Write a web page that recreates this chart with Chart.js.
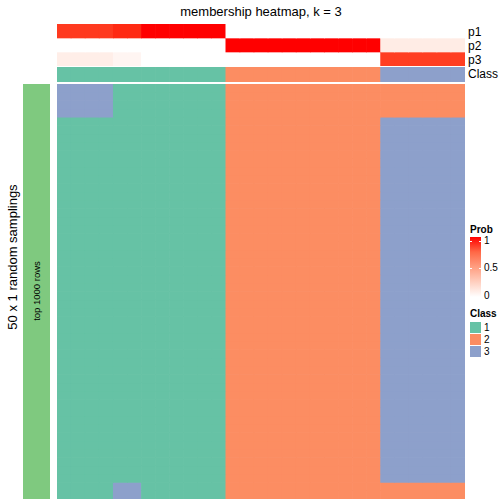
<!DOCTYPE html>
<html>
<head>
<meta charset="utf-8">
<script src="https://cdn.jsdelivr.net/npm/chart.js@4"></script>
<style>
  html, body { margin: 0; padding: 0; background: #fff; }
  body { width: 504px; height: 504px; position: relative; overflow: hidden;
         font-family: 'Liberation Sans', Arial, sans-serif; color: #000; }
  .box { position: absolute; }
  .txt { position: absolute; white-space: nowrap; line-height: 1; }
  .rot { transform: translate(-50%, -50%) rotate(-90deg); }
</style>
</head>
<body>
<div class="txt" style="left:261px;top:11px;font-size:13px;transform:translate(-50%,-50%)">membership heatmap, k = 3</div>

<div class="box" style="left:57px;top:24px;width:408px;height:42px"><canvas id="probMap"></canvas></div>
<div class="box" style="left:57px;top:67px;width:408px;height:15px"><canvas id="classMap"></canvas></div>
<div class="box" style="left:57px;top:84px;width:408px;height:415px"><canvas id="mainMap"></canvas></div>

<div class="txt" style="left:468px;top:26px;font-size:12px">p1</div>
<div class="txt" style="left:468px;top:40px;font-size:12px">p2</div>
<div class="txt" style="left:468px;top:54px;font-size:12px">p3</div>
<div class="txt" style="left:468px;top:68px;font-size:12px">Class</div>

<!-- barra de anotación izquierda -->
<div class="box" style="left:23px;top:84px;width:27px;height:415px;background:#7FC97F"></div>
<div class="txt rot" style="left:37px;top:291px;font-size:9.5px">top 1000 rows</div>
<div class="txt rot" style="left:12px;top:257px;font-size:13px">50 x 1 random samplings</div>

<!-- leyendas -->
<div class="txt" style="left:470px;top:225px;font-size:10px;font-weight:bold">Prob</div>
<div class="box" id="probLegend" style="left:470px;top:237px;width:11px;height:60px"></div>
<div class="box" style="left:470px;top:241px;width:2px;height:1px;background:#fff"></div>
<div class="box" style="left:479px;top:241px;width:2px;height:1px;background:#fff"></div>
<div class="box" style="left:470px;top:268px;width:2px;height:1px;background:#fff"></div>
<div class="box" style="left:479px;top:268px;width:2px;height:1px;background:#fff"></div>
<div class="txt" style="left:484px;top:236px;font-size:10px">1</div>
<div class="txt" style="left:484px;top:263px;font-size:10px">0.5</div>
<div class="txt" style="left:484px;top:291px;font-size:10px">0</div>

<div class="txt" style="left:470px;top:309px;font-size:10px;font-weight:bold">Class</div>
<div class="box" style="left:470px;top:322px;width:11px;height:11px;background:#66C2A5"></div>
<div class="box" style="left:470px;top:334px;width:11px;height:11px;background:#FC8D62"></div>
<div class="box" style="left:470px;top:346px;width:11px;height:11px;background:#8DA0CB"></div>
<div class="txt" style="left:484px;top:323px;font-size:10px">1</div>
<div class="txt" style="left:484px;top:335px;font-size:10px">2</div>
<div class="txt" style="left:484px;top:347px;font-size:10px">3</div>

<script>
// Datos: 29 columnas agrupadas en 5 bloques, 50 filas en 3 bloques
const colGroupSizes = [4, 2, 6, 11, 6];
const probP1 = [0.91, 0.95, 1, 0, 0];
const probP2 = [0, 0, 0, 1, 0.1];
const probP3 = [0.09, 0.05, 0, 0, 0.9];
const colClass = [1, 1, 1, 2, 3];
const rowBlockSizes = [4, 44, 2];
const rowBlockClasses = [
  [3, 1, 1, 2, 2],
  [1, 1, 1, 2, 3],
  [1, 3, 1, 2, 2],
];
const CLASS_COLORS = { 1: '#66C2A5', 2: '#FC8D62', 3: '#8DA0CB' };

// blanco -> rojo interpolado en espacio LAB
function labToHex(L, a, b) {
  const fy = (L + 16) / 116, fx = fy + a / 500, fz = fy - b / 200;
  const inv = (t) => (t ** 3 > 0.008856 ? t ** 3 : (t - 16 / 116) / 7.787);
  const X = 0.95047 * inv(fx), Y = inv(fy), Z = 1.08883 * inv(fz);
  const lin = [
    3.2406 * X - 1.5372 * Y - 0.4986 * Z,
    -0.9689 * X + 1.8758 * Y + 0.0415 * Z,
    0.0557 * X - 0.2040 * Y + 1.0570 * Z,
  ];
  return '#' + lin.map((v) => {
    const s = v > 0.0031308 ? 1.055 * v ** (1 / 2.4) - 0.055 : 12.92 * v;
    return Math.round(Math.min(1, Math.max(0, s)) * 255).toString(16).padStart(2, '0');
  }).join('');
}
function probColor(p) {
  return labToHex(100 - 46.76 * p, 80.09 * p, 67.2 * p);
}

// expandir grupos a columnas individuales
const colGroup = colGroupSizes.flatMap((n, g) => Array(n).fill(g));
const labels = colGroup.map((_, i) => String(i + 1));

function heatmap(canvasId, rowColors) {
  const nRows = rowColors.length;
  new Chart(document.getElementById(canvasId), {
    type: 'bar',
    data: {
      labels,
      datasets: rowColors.map((colors, r) => ({
        data: labels.map(() => [r, r + 1]),
        backgroundColor: colors,
        borderWidth: 0,
        grouped: false,
        barPercentage: 1,
        categoryPercentage: 1,
      })),
    },
    options: {
      animation: false,
      responsive: true,
      maintainAspectRatio: false,
      layout: { padding: 0 },
      plugins: { legend: { display: false }, tooltip: { enabled: false } },
      scales: {
        x: { display: false },
        y: { display: false, min: 0, max: nRows, reverse: true },
      },
    },
  });
}

heatmap('probMap', [probP1, probP2, probP3].map((p) => colGroup.map((g) => probColor(p[g]))));
heatmap('classMap', [colGroup.map((g) => CLASS_COLORS[colClass[g]])]);

const mainRows = rowBlockSizes.flatMap((n, b) =>
  Array(n).fill(0).map(() => colGroup.map((g) => CLASS_COLORS[rowBlockClasses[b][g]])));
heatmap('mainMap', mainRows);

document.getElementById('probLegend').style.background =
  'linear-gradient(to bottom, ' + [1, 0.75, 0.5, 0.25, 0].map((p) => probColor(p)).join(', ') + ')';
</script>
</body>
</html>
